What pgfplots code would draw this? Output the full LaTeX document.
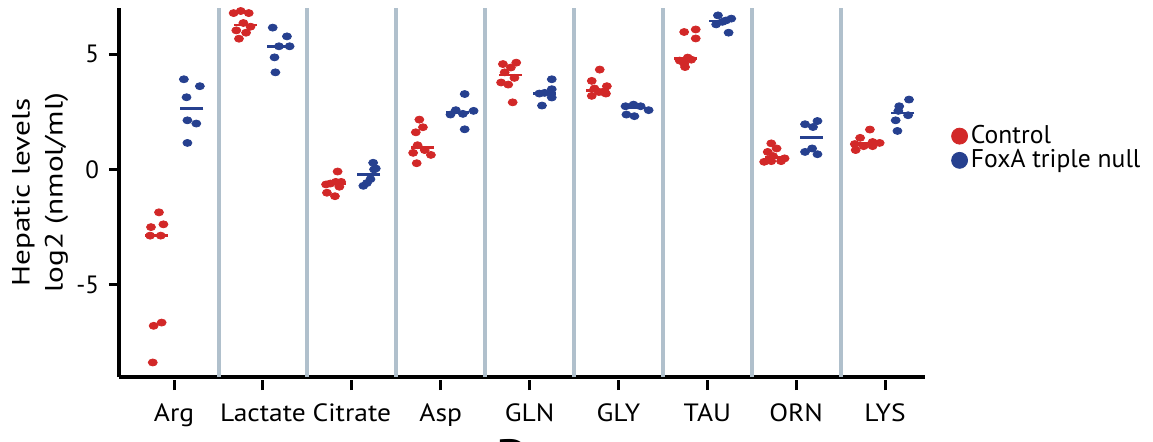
\documentclass[border=0pt]{standalone}
\usepackage{pgfplots}
\pgfplotsset{compat=1.18}
\usepackage{fontspec}
\setmainfont{PT Sans}

\definecolor{ctrl}{RGB}{210,40,40}
\definecolor{foxa}{RGB}{38,64,143}
\definecolor{sepline}{RGB}{176,192,204}

\begin{document}
\begin{tikzpicture}
\useasboundingbox (0,0) rectangle (576.5pt,220.5pt);
\begin{axis}[
  at={(59.5pt,32pt)}, anchor=south west,
  scale only axis, width=403pt, height=184.5pt,
  xmin=-0.62, xmax=8.45, ymin=-9, ymax=7,
  axis x line*=bottom, axis y line*=left,
  axis line style={line width=1.6pt},
  xtick={0,...,8},
  xticklabels={Arg,Lactate,Citrate,Asp,GLN,GLY,TAU,ORN,LYS},
  ytick={-5,0,5},
  yticklabels={-5,0,5},
  tick align=outside,
  major tick length=5pt,
  tick style={line width=1.5pt, black},
  xtick style={yshift=-1.5pt},
  yticklabel style={font=\fontsize{12.5}{14}\selectfont, xshift=-1.5pt},
  xticklabel style={font=\fontsize{12.5}{14}\selectfont, xscale=1.1, yshift=-5pt},
  every axis y label/.style={at={(axis description cs:-0.098,0.5)}, rotate=90, anchor=center},
  ylabel={Hepatic levels\\log2 (nmol/ml)},
  ylabel style={align=center, font=\fontsize{12.5}{16.5}\selectfont, xscale=1.25},
  clip=false,
  legend style={at={(axis description cs:1.032,0.62)}, anchor=west, draw=none, fill=none,
    font=\fontsize{12.8}{13.5}\selectfont, row sep=1.5pt, inner sep=0pt,
    nodes={inner xsep=1.5pt, inner ysep=0pt}},
  legend cell align=left,
  legend image code/.code={\fill[#1] (0pt,0pt) circle (4pt);},
]
% group separators
\pgfplotsinvokeforeach{0.5,1.5,2.5,3.5,4.5,5.5,6.5,7.5}{
  \draw[sepline, line width=2pt] (axis cs:#1,-9) -- (axis cs:#1,7);
}

% Control
\addplot[only marks, mark=*, mark size=1.75pt, color=ctrl, forget plot,
  mark options={xscale=1.28}] table {
x y
-0.17 -1.86
-0.26 -2.50
-0.12 -2.38
-0.27 -2.87
-0.15 -2.87
-0.23 -6.78
-0.14 -6.64
-0.24 -8.37
0.67 6.78
0.75 6.87
0.84 6.78
0.78 6.35
0.86 6.19
0.70 6.03
0.81 5.93
0.73 5.67
1.84 -0.09
1.71 -0.65
1.76 -0.61
1.82 -0.54
1.88 -0.54
1.86 -0.75
1.72 -1.01
1.81 -1.16
2.76 2.16
2.80 1.83
2.72 1.61
2.74 1.05
2.82 0.84
2.69 0.72
2.89 0.63
2.73 0.27
3.70 4.57
3.85 4.63
3.79 4.42
3.72 4.21
3.83 3.97
3.68 3.77
3.76 3.68
3.81 2.91
4.79 4.33
4.70 3.84
4.87 3.61
4.73 3.51
4.78 3.36
4.86 3.29
4.70 3.19
4.82 3.36
5.74 5.96
5.87 6.07
5.87 5.68
5.78 4.85
5.69 4.72
5.82 4.76
5.74 4.59
5.75 4.44
6.72 1.13
6.68 0.76
6.78 0.91
6.74 0.58
6.64 0.33
6.72 0.36
6.83 0.36
6.87 0.48
7.83 1.73
7.72 1.37
7.66 1.10
7.76 1.01
7.86 1.19
7.94 1.15
7.67 0.84
7.86 1.01
};

% FoxA triple null
\addplot[only marks, mark=*, mark size=1.75pt, color=foxa, forget plot,
  mark options={xscale=1.28}] table {
x y
0.11 3.91
0.29 3.61
0.14 3.13
0.15 2.13
0.25 1.99
0.15 1.15
1.11 6.15
1.27 5.77
1.18 5.34
1.30 5.34
1.13 4.86
1.14 4.21
2.24 0.29
2.27 0.04
2.25 0.00
2.21 -0.42
2.13 -0.71
2.17 -0.59
3.27 3.27
3.17 2.57
3.11 2.38
3.25 2.41
3.37 2.54
3.27 1.74
4.25 3.91
4.25 3.48
4.11 3.29
4.17 3.32
4.25 3.12
4.14 2.77
5.08 2.74
5.17 2.81
5.25 2.74
5.34 2.57
5.09 2.38
5.18 2.31
6.12 6.68
6.21 6.46
6.27 6.54
6.10 6.29
6.24 5.93
6.17 6.40
7.10 1.96
7.19 1.84
7.24 2.10
7.10 0.76
7.18 0.91
7.24 0.66
8.27 3.03
8.16 2.74
8.15 2.54
8.26 2.35
8.12 2.13
8.14 1.67
};

% medians
\addplot[only marks, mark=-, mark size=5.75pt, color=ctrl, forget plot,
  mark options={line width=1.3pt}] table {
x y
-0.20 -2.87
0.80 6.27
1.80 -0.63
2.79 0.95
3.78 4.09
4.76 3.43
5.75 4.80
6.78 0.53
7.79 1.12
};
\addplot[only marks, mark=-, mark size=5.75pt, color=foxa, forget plot,
  mark options={line width=1.3pt}] table {
x y
0.20 2.63
1.17 5.34
2.19 -0.21
3.19 2.47
4.17 3.30
5.19 2.66
6.15 6.43
7.17 1.38
8.20 2.44
};

\addlegendimage{ctrl}
\addlegendentry{Control}
\addlegendimage{foxa}
\addlegendentry{FoxA triple null}
\end{axis}
% panel letter of the next panel, cut by the page edge
\node[font=\bfseries\fontsize{24}{24}\selectfont, anchor=base, inner sep=0pt] at (256.5pt,-16pt) {D};
\end{tikzpicture}
\end{document}
